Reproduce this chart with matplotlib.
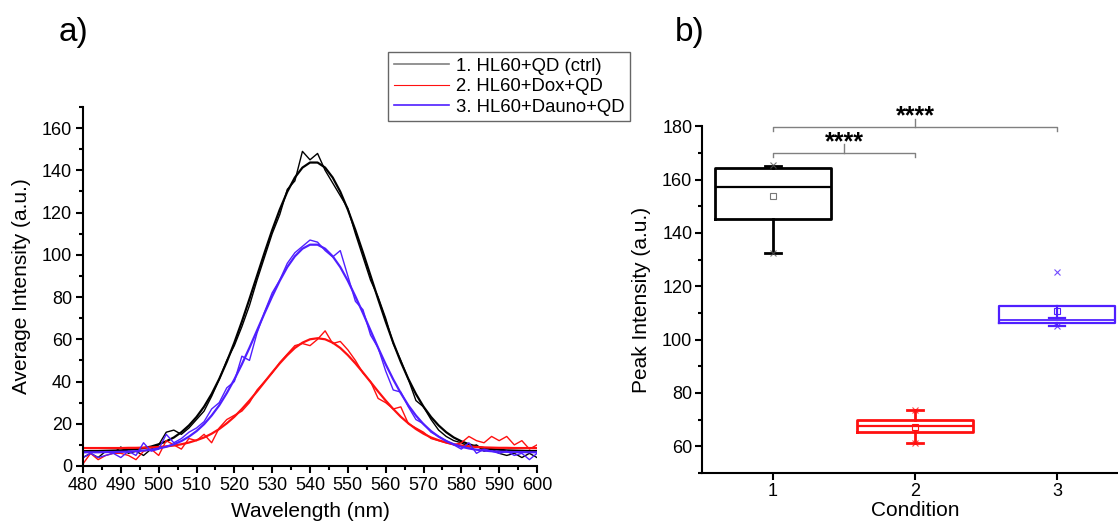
import matplotlib
matplotlib.use("Agg")
import matplotlib.pyplot as plt
from matplotlib.lines import Line2D

plt.rcParams['font.family'] = ['Liberation Sans', 'DejaVu Sans']

# ---------------- Panel a data ----------------
wavelength = list(range(480, 601, 2))

ctrl_raw = [4, 6, 4, 7, 6, 9, 6, 7, 5, 8,
            10, 16, 17, 15, 18, 22, 26, 33, 41, 50,
            57, 66, 76, 88, 99, 110, 119, 131, 135, 149,
            145, 148, 140, 134, 128, 122, 110, 99, 88, 80,
            70, 58, 50, 41, 31, 28, 22, 17, 14, 12,
            11, 9, 10, 7, 8, 6, 5, 6, 4, 6, 4]
ctrl_fit = [7.0, 7.1, 7.1, 7.2, 7.3, 7.4, 7.7, 8.0, 8.5, 9.2,
            10.3, 11.7, 13.5, 16.0, 19.2, 23.2, 28.1, 34.1, 41.2, 49.3,
            58.4, 68.4, 79.1, 90.1, 101.1, 111.7, 121.4, 129.9, 136.6, 141.3,
            143.7, 143.7, 141.3, 136.6, 129.9, 121.4, 111.7, 101.1, 90.1, 79.1,
            68.4, 58.4, 49.3, 41.2, 34.1, 28.1, 23.2, 19.2, 16.0, 13.5,
            11.7, 10.3, 9.2, 8.5, 8.0, 7.7, 7.4, 7.3, 7.2, 7.1, 7.1]

dox_raw = [1, 6, 3, 5, 6, 6, 5, 3, 7, 8,
           5, 12, 10, 8, 13, 12, 15, 11, 18, 22,
           24, 26, 30, 36, 40, 44, 49, 53, 57, 58,
           57, 60, 64, 58, 59, 55, 50, 44, 40, 32,
           30, 27, 28, 20, 18, 16, 13, 12, 11, 10,
           11, 14, 12, 11, 14, 12, 14, 10, 12, 8, 10]
dox_fit = [8.5, 8.5, 8.5, 8.5, 8.5, 8.5, 8.6, 8.6, 8.7, 8.8,
           9.0, 9.3, 9.7, 10.3, 11.1, 12.2, 13.5, 15.3, 17.5, 20.2,
           23.3, 27.0, 31.0, 35.3, 39.8, 44.3, 48.6, 52.5, 55.9, 58.4,
           60.0, 60.5, 60.0, 58.4, 55.9, 52.5, 48.6, 44.3, 39.8, 35.3,
           31.0, 27.0, 23.3, 20.2, 17.5, 15.3, 13.5, 12.2, 11.1, 10.3,
           9.7, 9.3, 9.0, 8.8, 8.7, 8.6, 8.6, 8.5, 8.5, 8.5, 8.5]

dauno_raw = [4, 6, 4, 5, 6, 4, 7, 5, 11, 7,
             8, 15, 11, 13, 16, 18, 21, 27, 30, 37,
             40, 52, 50, 63, 73, 82, 88, 96, 101, 104,
             107, 106, 102, 99, 102, 90, 78, 74, 62, 56,
             45, 36, 35, 28, 22, 20, 16, 14, 12, 10,
             8, 11, 6, 8, 7, 6, 7, 5, 6, 3, 6]
dauno_fit = [6.5, 6.5, 6.5, 6.6, 6.6, 6.7, 6.8, 7.0, 7.3, 7.7,
             8.3, 9.1, 10.3, 11.8, 13.9, 16.5, 19.8, 23.9, 28.7, 34.5,
             41.0, 48.2, 56.0, 64.2, 72.4, 80.3, 87.7, 94.2, 99.3, 102.9,
             104.8, 104.8, 102.9, 99.3, 94.2, 87.7, 80.3, 72.4, 64.2, 56.0,
             48.2, 41.0, 34.5, 28.7, 23.9, 19.8, 16.5, 13.9, 11.8, 10.3,
             9.1, 8.3, 7.7, 7.3, 7.0, 6.8, 6.7, 6.6, 6.6, 6.5, 6.5]

legend_labels = ["1. HL60+QD (ctrl)", "2. HL60+Dox+QD", "3. HL60+Dauno+QD"]

# ---------------- Panel b data ----------------
conditions = [1, 2, 3]
box_q1 = [145.2, 65.3, 106.1]
box_med = [157.3, 67.6, 107.5]
box_q3 = [164.4, 69.9, 112.5]
box_mean = [153.8, 67.4, 110.6]
whisk_lo = [132.6, 61.1, 105.2]
whisk_hi = [165.3, 73.6, 108.2]
point_min = [132.6, 61.1, 105.2]
point_max = [165.5, 73.6, 125.5]
sig_pairs = [(1, 2), (1, 3)]
sig_levels = [170.0, 179.6]
sig_text = ["****", "****"]

BLUE = '#4f1fff'
RED = '#ff1010'
colors_b = ['black', RED, BLUE]

LABEL_FS = 15
TICK_FS = 13

fig = plt.figure(figsize=(11.18, 5.23), dpi=100)

# ---------------- Panel a ----------------
ax = fig.add_axes([83 / 1118, 57 / 523, 454 / 1118, 359 / 523])
ax.plot(wavelength, ctrl_raw, color='black', lw=1.0)
ax.plot(wavelength, ctrl_fit, color='black', lw=1.6)
ax.plot(wavelength, dox_raw, color=RED, lw=1.0)
ax.plot(wavelength, dox_fit, color=RED, lw=1.6)
ax.plot(wavelength, dauno_raw, color=BLUE, lw=1.0)
ax.plot(wavelength, dauno_fit, color=BLUE, lw=1.6)
ax.set_xlim(480, 600)
ax.set_ylim(0, 170)
ax.set_xticks(range(480, 601, 10))
ax.set_xticks(range(485, 600, 10), minor=True)
ax.set_yticks(range(0, 161, 20))
ax.set_yticks(range(10, 171, 20), minor=True)
for s in ['top', 'right']:
    ax.spines[s].set_visible(False)
for s in ['left', 'bottom']:
    ax.spines[s].set_linewidth(1.5)
ax.tick_params(which='major', direction='out', length=5, width=1.5,
               labelsize=TICK_FS, pad=3)
ax.tick_params(which='minor', direction='out', length=3, width=1.5)
ax.set_xlabel("Wavelength (nm)", fontsize=LABEL_FS, labelpad=6)
ax.set_ylabel("Average Intensity (a.u.)", fontsize=LABEL_FS, labelpad=8)

handles = [Line2D([0], [0], color='#808080', lw=1.2),
           Line2D([0], [0], color=RED, lw=0.8),
           Line2D([0], [0], color=BLUE, lw=1.2)]
leg = fig.legend(handles, legend_labels, loc='upper right',
                 bbox_to_anchor=(630 / 1118, 1 - 52 / 523), fontsize=13.3,
                 frameon=True, fancybox=False, handlelength=3.0,
                 handletextpad=0.35, borderpad=0.3, labelspacing=0.2,
                 borderaxespad=0)
leg.get_frame().set_edgecolor('#404040')
leg.get_frame().set_linewidth(1.0)

fig.text(73 / 1118, 1 - 33 / 523, "a)", fontsize=24, ha='center', va='center')
fig.text(690 / 1118, 1 - 33 / 523, "b)", fontsize=24, ha='center', va='center')

# ---------------- Panel b ----------------
bx = fig.add_axes([702 / 1118, 50 / 523, 426 / 1118, 346.7 / 523])
for i, c in enumerate(conditions):
    st = [dict(med=box_med[i], q1=box_q1[i], q3=box_q3[i],
               whislo=whisk_lo[i], whishi=whisk_hi[i], mean=box_mean[i], fliers=[])]
    col = colors_b[i]
    lw = 2.0 if i < 2 else 1.6
    bx.bxp(st, positions=[c], widths=0.81, showmeans=True, showfliers=False,
           boxprops=dict(color=col, lw=lw),
           medianprops=dict(color=col, lw=lw * 0.8),
           whiskerprops=dict(color=col, lw=lw),
           capprops=dict(color=col, lw=lw),
           capwidths=0.11,
           meanprops=dict(marker='s', markersize=4, markerfacecolor='none',
                          markeredgecolor='#777777' if i == 0 else col,
                          markeredgewidth=0.8),
           manage_ticks=False)
    mk_col = '#555555' if i == 0 else col
    bx.plot([c, c], [point_min[i], point_max[i]], linestyle='none', marker='x',
            markersize=5, color=mk_col, markeredgewidth=0.8, alpha=0.8)

for (a, b), yv, t in zip(sig_pairs, sig_levels, sig_text):
    bx.plot([a, a, b, b], [yv - 1.4, yv, yv, yv - 1.4], color='#808080', lw=1.0,
            clip_on=False)
    mid = (a + b) / 2
    bx.plot([mid, mid], [yv, yv + 3.2], color='#808080', lw=1.0, clip_on=False)
    bx.text(mid, yv + 1.5, t, ha='center', va='baseline', fontsize=18,
            fontweight='bold', clip_on=False)

bx.set_xlim(0.5, 3.5)
bx.set_ylim(50, 180)
bx.set_xticks(conditions)
bx.set_xticklabels([str(c) for c in conditions])
bx.set_yticks(range(60, 181, 20))
bx.set_yticks(range(50, 181, 10), minor=True)
for s in ['top', 'right']:
    bx.spines[s].set_visible(False)
for s in ['left', 'bottom']:
    bx.spines[s].set_linewidth(1.5)
bx.tick_params(which='major', direction='out', length=5, width=1.5,
               labelsize=TICK_FS, pad=2)
bx.tick_params(which='minor', direction='out', length=3, width=1.5)
bx.set_xlabel("Condition", fontsize=LABEL_FS, labelpad=1)
bx.set_ylabel("Peak Intensity (a.u.)", fontsize=LABEL_FS, labelpad=8)

fig.savefig("out.png", dpi=100)
